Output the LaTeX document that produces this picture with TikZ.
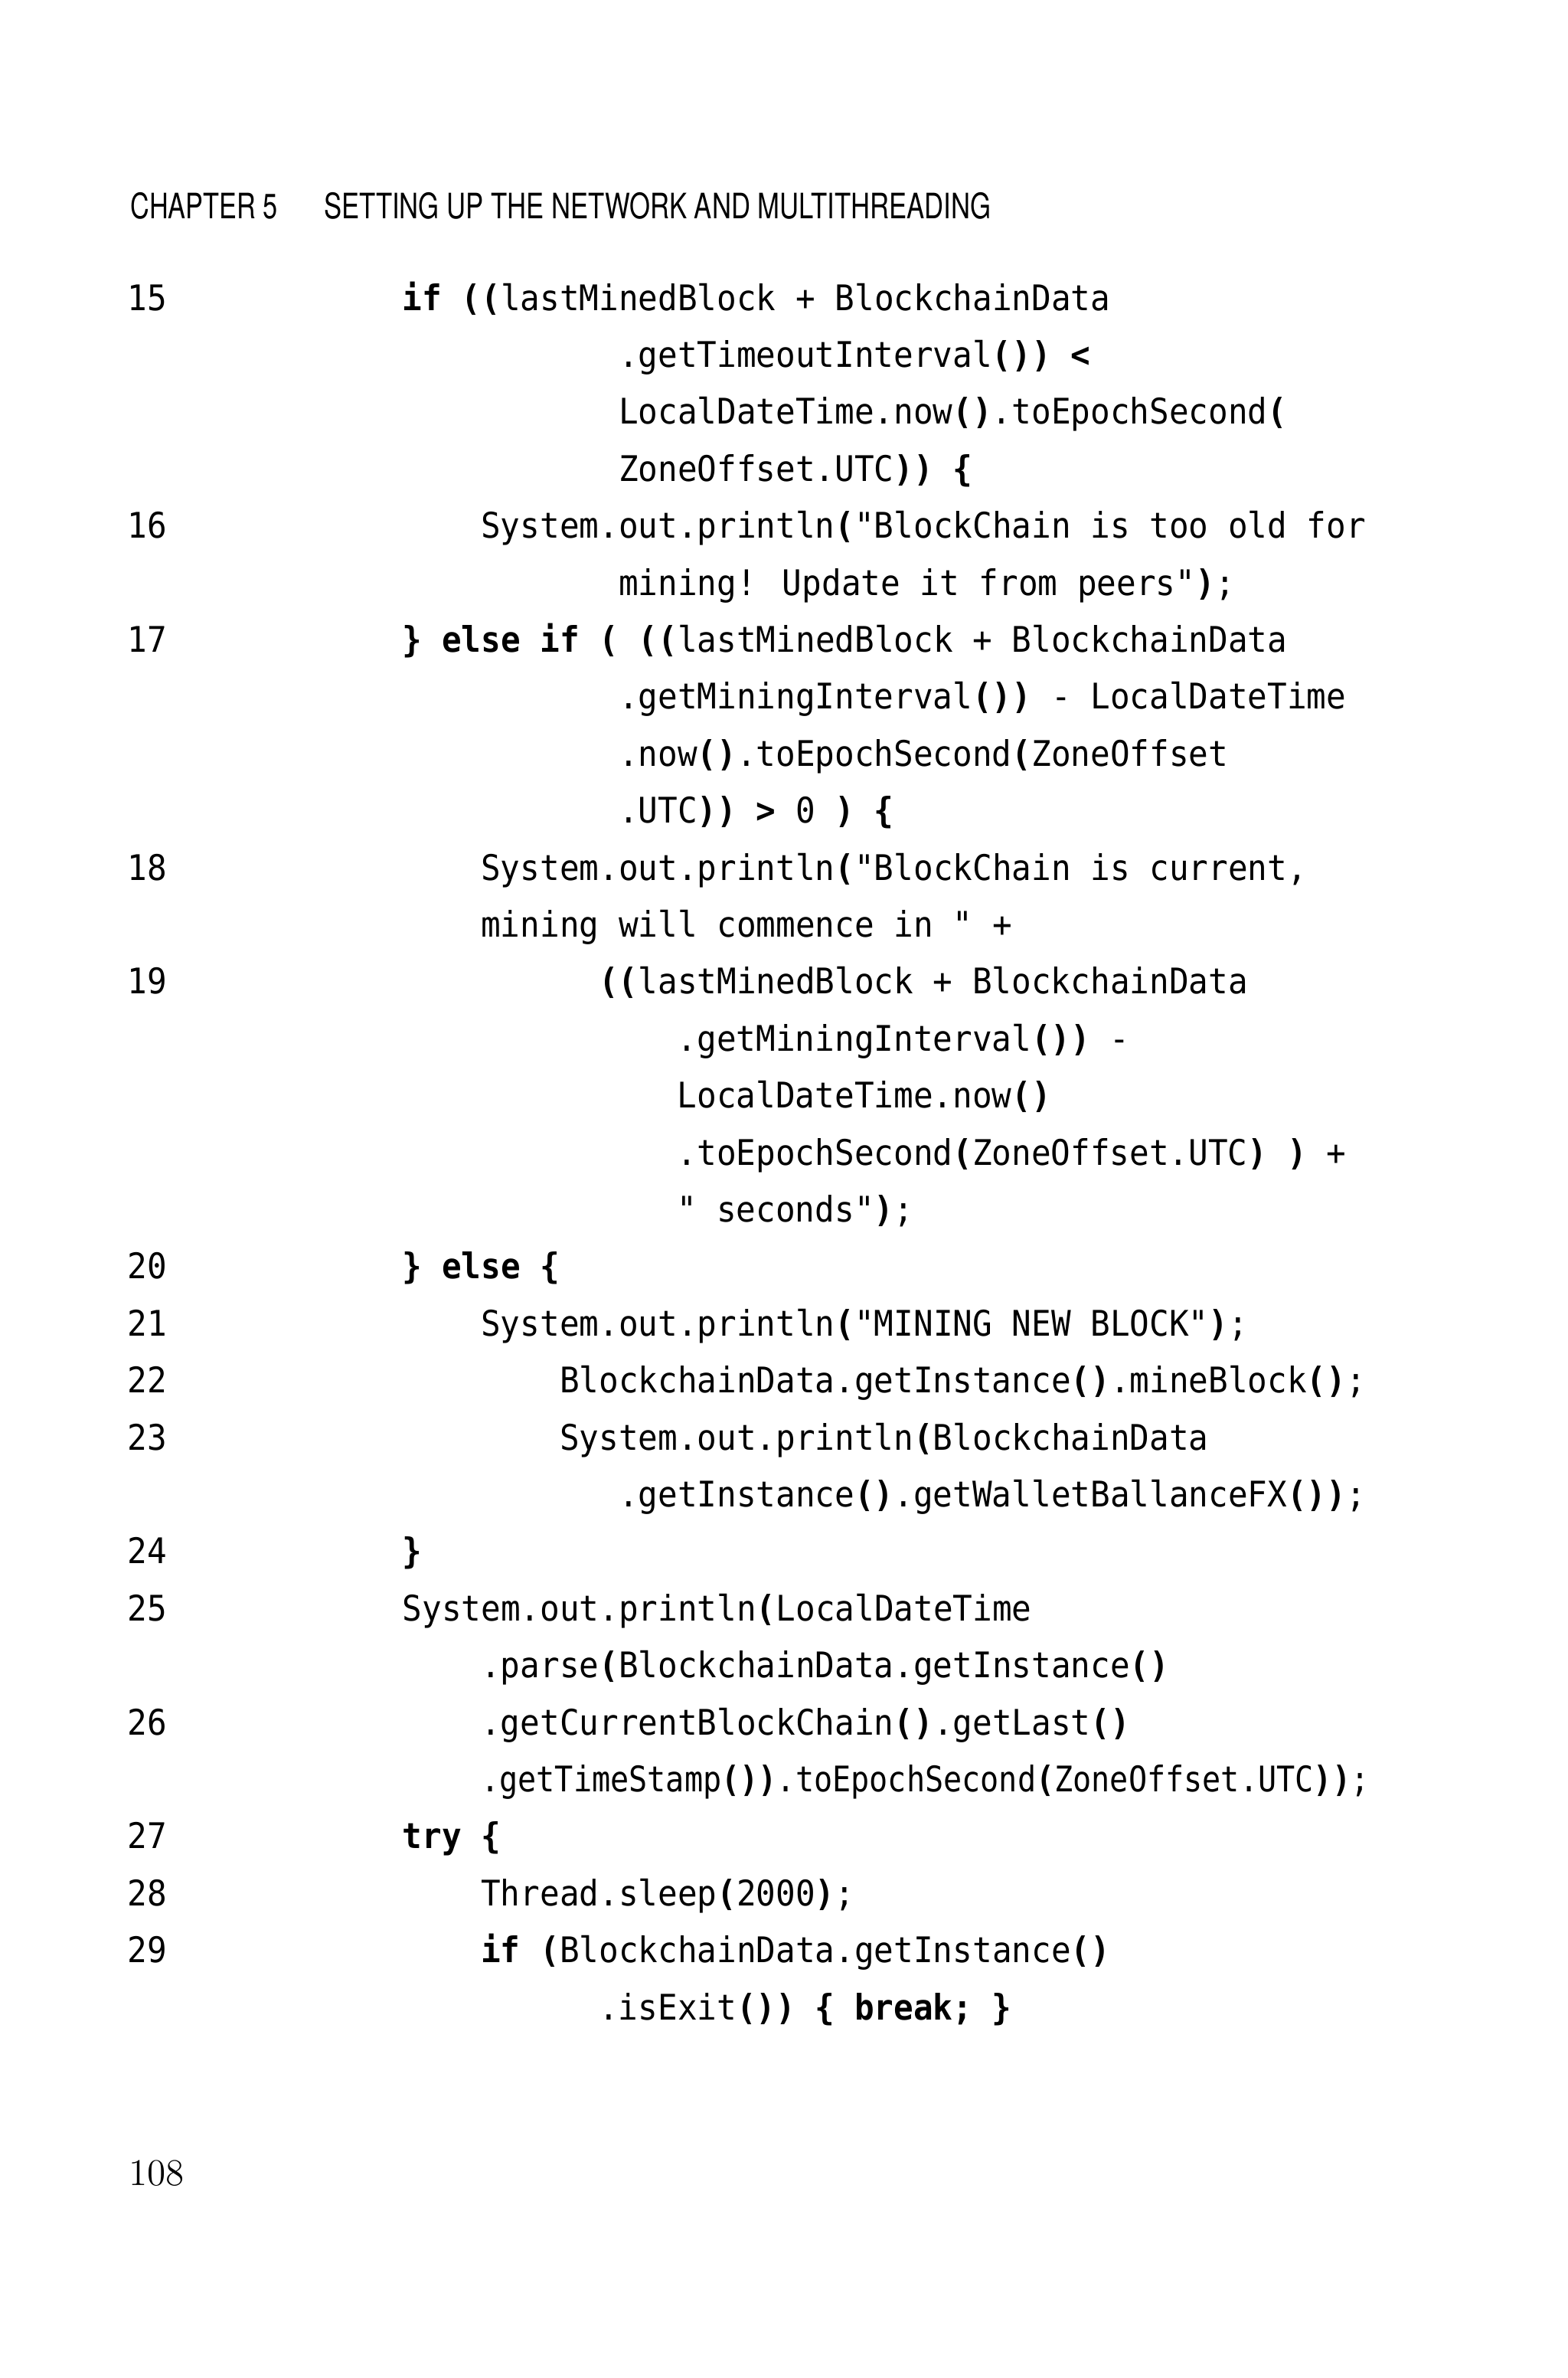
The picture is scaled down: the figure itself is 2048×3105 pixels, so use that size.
\documentclass[tikz,border=0pt]{standalone}
\usepackage{fontspec}
\newfontfamily\codefont[FakeStretch=0.926]{DejaVu Sans Mono}
\newfontfamily\headfont{TeX Gyre Heros}
\newcommand\kw[1]{\textbf{#1}}
\begin{document}
\begin{tikzpicture}[x=0.01cm,y=-0.01cm,
    code/.style={anchor=base west,inner sep=0pt,font=\codefont\fontsize{13.1pt}{15pt}\selectfont},
    num/.style={code},
    head/.style={anchor=base west,inner sep=0pt,font=\headfont\fontsize{13pt}{15pt}\selectfont}]
  \fill [white] (0,0) rectangle (2048,3105);
  \node [head] (chap) at (170,285) {\resizebox{1.92cm}{\height}{CHAPTER 5}};
  \node [head] (title) at (423,285) {\resizebox{8.70cm}{\height}{SETTING UP THE NETWORK AND MULTITHREADING}};
  \foreach \n/\r in {15/0,16/4,17/6,18/10,19/12,20/17,21/18,22/19,23/20,24/22,25/23,26/25,27/27,28/28,29/29}
    \node [num] (n\n) at (166,{405+74.4*\r}) {\n};
  \node [code] (c0) at (525,405) {\kw{if ((}lastMinedBlock + BlockchainData};
  \node [code] (c1) at (807.3,479.4) {.getTimeoutInterval\kw{()) <}};
  \node [code] (c2) at (807.3,553.8) {LocalDateTime.now\kw{()}.toEpochSecond\kw{(}};
  \node [code] (c3) at (807.3,628.2) {ZoneOffset.UTC\kw{)) \{}};
  \node [code] (c4) at (627.6,702.6) {System.out.println\kw{(}"BlockChain is too old for};
  \node [code] (c5) at (807.3,777) {mining! Update it from peers"\kw{)};};
  \node [code] (c6) at (525,851.4) {\kw{\} else if ( ((}lastMinedBlock + BlockchainData};
  \node [code] (c7) at (807.3,925.8) {.getMiningInterval\kw{())} - LocalDateTime};
  \node [code] (c8) at (807.3,1000.2) {.now\kw{()}.toEpochSecond\kw{(}ZoneOffset};
  \node [code] (c9) at (807.3,1074.6) {.UTC\kw{)) >} 0 \kw{) \{}};
  \node [code] (c10) at (627.6,1149) {System.out.println\kw{(}"BlockChain is current,};
  \node [code] (c11) at (627.6,1223.4) {mining will commence in " +};
  \node [code] (c12) at (781.6,1297.8) {\kw{((}lastMinedBlock + BlockchainData};
  \node [code] (c13) at (884.2,1372.2) {.getMiningInterval\kw{())} -};
  \node [code] (c14) at (884.2,1446.6) {LocalDateTime.now\kw{()}};
  \node [code] (c15) at (884.2,1521) {.toEpochSecond\kw{(}ZoneOffset.UTC\kw{) )} +};
  \node [code] (c16) at (884.2,1595.4) {" seconds"\kw{)};};
  \node [code] (c17) at (525,1669.8) {\kw{\} else \{}};
  \node [code] (c18) at (627.6,1744.2) {System.out.println\kw{(}"MINING NEW BLOCK"\kw{)};};
  \node [code] (c19) at (730.3,1818.6) {BlockchainData.getInstance\kw{()}.mineBlock\kw{()};};
  \node [code] (c20) at (730.3,1893) {System.out.println\kw{(}BlockchainData};
  \node [code] (c21) at (807.3,1967.4) {.getInstance\kw{()}.getWalletBallanceFX\kw{())};};
  \node [code] (c22) at (525,2041.8) {\kw{\}}};
  \node [code] (c23) at (525,2116.2) {System.out.println\kw{(}LocalDateTime};
  \node [code] (c24) at (627.6,2190.6) {.parse\kw{(}BlockchainData.getInstance\kw{()}};
  \node [code] (c25) at (627.6,2265) {.getCurrentBlockChain\kw{()}.getLast\kw{()}};
  \node [code] (c26) at (627.6,2339.4) {\scalebox{0.941}[1]{.getTimeStamp\kw{())}.toEpochSecond\kw{(}ZoneOffset.UTC\kw{))};}};
  \node [code] (c27) at (525,2413.8) {\kw{try \{}};
  \node [code] (c28) at (627.6,2488.2) {Thread.sleep\kw{(}2000\kw{)};};
  \node [code] (c29) at (627.6,2562.6) {\kw{if (}BlockchainData.getInstance\kw{()}};
  \node [code] (c30) at (781.6,2637) {.isExit\kw{())} \kw{\{ break; \}}};
  \node [anchor=base west,inner sep=0pt,font=\fontsize{14pt}{16pt}\selectfont] (page) at (168,2853) {108};
\end{tikzpicture}
\end{document}
